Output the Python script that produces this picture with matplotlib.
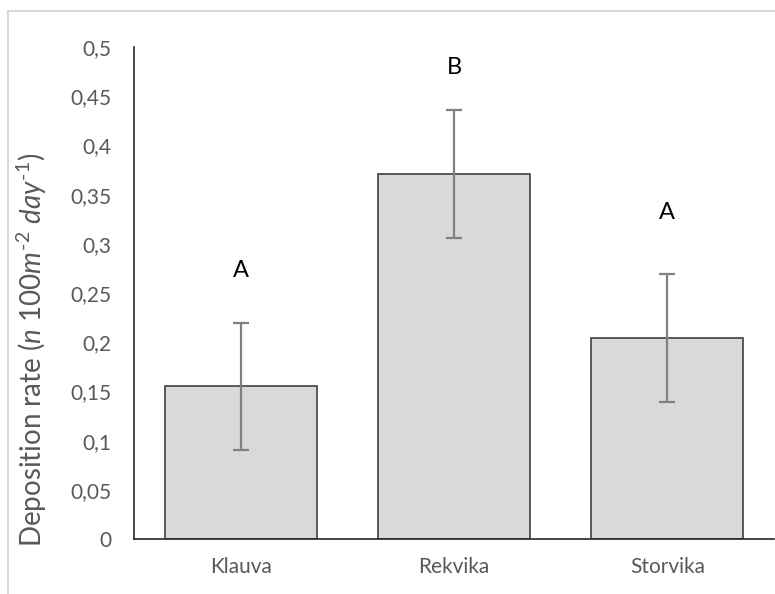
import matplotlib
matplotlib.use("Agg")
import matplotlib.pyplot as plt
from matplotlib.ticker import FuncFormatter

plt.rcParams['font.family'] = ['Lato', 'DejaVu Sans']
plt.rcParams['mathtext.fontset'] = 'custom'
plt.rcParams['mathtext.rm'] = 'Lato'
plt.rcParams['mathtext.it'] = 'Lato:italic'

categories = ["Klauva", "Rekvika", "Storvika"]
values = [0.155, 0.371, 0.204]
errors = [0.065, 0.065, 0.065]
letters = ["A", "B", "A"]
letter_y = [0.273, 0.479, 0.332]
yticks = [0, 0.05, 0.1, 0.15, 0.2, 0.25, 0.3, 0.35, 0.4, 0.45, 0.5]

fig = plt.figure(figsize=(7.75, 5.94), dpi=100)
ax = fig.add_axes([134/775, (594-539)/594, (774-134)/775, (539-47)/594])

x = list(range(len(categories)))
ax.bar(x, values, width=0.712, color='#d9d9d9', edgecolor='#404040', linewidth=1.2, zorder=2)
ax.errorbar(x, values, yerr=errors, fmt='none', ecolor='#808080', elinewidth=1.6,
            capsize=6, capthick=1.6, zorder=3)
for xi, ly, l in zip(x, letter_y, letters):
    ax.text(xi, ly, l, ha='center', va='center', fontsize=17, color='black')

ax.set_xlim(-0.5, 2.5)
ax.set_ylim(0, 0.5)
ax.set_yticks(yticks)
ax.yaxis.set_major_formatter(FuncFormatter(lambda v, p: ('%g' % v).replace('.', ',')))
ax.set_xticks(x)
ax.set_xticklabels(categories)
ax.tick_params(axis='y', length=0, pad=16, labelsize=15, labelcolor='#595959')
ax.tick_params(axis='x', length=0, pad=13, labelsize=15, labelcolor='#595959')
for s in ['top', 'right']:
    ax.spines[s].set_visible(False)
for s in ['left', 'bottom']:
    ax.spines[s].set_color('#262626')
    ax.spines[s].set_linewidth(1.2)

fig.text(32/775, 1 - 350/594,
         r'Deposition rate ($\mathit{n\ 100m^{\text{-2}}\ day^{\text{-1}}}$)',
         rotation=90, ha='center', va='center', fontsize=20, color='#595959')

# chart frame (partially visible)
fig.add_artist(plt.Line2D([7.5/775, 7.5/775], [0, 1 - 11/594], transform=fig.transFigure,
                          color='#d9d9d9', linewidth=1.5))
fig.add_artist(plt.Line2D([7.5/775, 1], [1 - 11/594, 1 - 11/594], transform=fig.transFigure,
                          color='#d9d9d9', linewidth=1.5))

fig.savefig('out.png', dpi=100)
